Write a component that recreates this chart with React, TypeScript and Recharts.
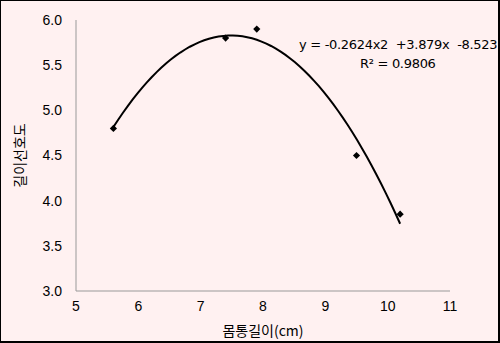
import { ComposedChart, Line, Scatter, XAxis, YAxis, Label } from "recharts";

const lengthCm = [5.6, 7.4, 7.9, 9.5, 10.2];
const preference = [4.8, 5.8, 5.9, 4.5, 3.85];
const xTicks = [5, 6, 7, 8, 9, 10, 11];
const yTicks = [3.0, 3.5, 4.0, 4.5, 5.0, 5.5, 6.0];
const equationText = "y = -0.2624x2  +3.879x  -8.523";
const r2Text = "R² = 0.9806";

const points = lengthCm.map((x, i) => ({ x, y: preference[i] }));

// quadratic least squares fit of the points (like the Excel trendline)
function fitQuadratic(xs: number[], ys: number[]) {
  const s = (p: number, q = 0) =>
    xs.reduce((acc, x, i) => acc + Math.pow(x, p) * Math.pow(ys[i], q), 0);
  const A = [
    [s(4), s(3), s(2), s(2, 1)],
    [s(3), s(2), s(1), s(1, 1)],
    [s(2), s(1), xs.length, s(0, 1)],
  ];
  for (let c = 0; c < 3; c++) {
    for (let r = c + 1; r < 3; r++) {
      const f = A[r][c] / A[c][c];
      for (let k = c; k < 4; k++) A[r][k] -= f * A[c][k];
    }
  }
  const res = [0, 0, 0];
  for (let r = 2; r >= 0; r--) {
    let v = A[r][3];
    for (let k = r + 1; k < 3; k++) v -= A[r][k] * res[k];
    res[r] = v / A[r][r];
  }
  return res;
}

const [qa, qb, qc] = fitQuadratic(lengthCm, preference);
const xMin = Math.min(...lengthCm);
const xMax = Math.max(...lengthCm);
const trend = Array.from({ length: 61 }, (_, i) => {
  const x = xMin + ((xMax - xMin) * i) / 60;
  return { x, y: qa * x * x + qb * x + qc };
});

const tickStyle = { fill: "#000", fontSize: 14, fontFamily: "Liberation Sans, Arial, sans-serif" };
const korean = "'Noto Sans CJK KR', sans-serif";

const DiamondDot = (props: any) => {
  const { cx, cy } = props;
  const r = 3.6;
  return (
    <path
      d={`M${cx},${cy - r}L${cx + r},${cy}L${cx},${cy + r}L${cx - r},${cy}Z`}
      fill="#000"
    />
  );
};

export default function App() {
  return (
    <div
      style={{
        position: "absolute",
        left: 0,
        top: 0,
        width: 500,
        height: 343,
        boxSizing: "border-box",
        background: "#fff1f1",
        borderStyle: "solid",
        borderColor: "#000",
        borderWidth: "1px 2px 2px 1px",
      }}
    >
      <div style={{ position: "absolute", left: -1, top: -1 }}>
        <ComposedChart width={500} height={343} margin={{ top: 20, right: 50, bottom: 0, left: 0 }}>
          <XAxis
            type="number"
            dataKey="x"
            domain={[5, 11]}
            ticks={xTicks}
            tickLine={false}
            tickMargin={4}
            stroke="#999"
            tick={tickStyle}
            height={52}
          >
            <Label
              value="몸통길이(cm)"
              position="insideBottom"
              offset={7}
              style={{ fill: "#000", fontSize: 14, fontFamily: korean }}
            />
          </XAxis>
          <YAxis
            type="number"
            dataKey="y"
            domain={[3, 6]}
            ticks={yTicks}
            tickFormatter={(v: number) => v.toFixed(1)}
            tickLine={false}
            tickMargin={8}
            stroke="#999"
            tick={tickStyle}
            width={76}
          >
            <Label
              value="길이선호도"
              angle={-90}
              position="insideLeft"
              offset={20}
              style={{ fill: "#000", fontSize: 14, fontFamily: korean, textAnchor: "middle" }}
            />
          </YAxis>
          <Line
            data={trend}
            dataKey="y"
            type="linear"
            stroke="#000"
            strokeWidth={2}
            dot={false}
            activeDot={false}
            isAnimationActive={false}
          />
          <Scatter data={points} dataKey="y" shape={DiamondDot} fill="#000" isAnimationActive={false} />
        </ComposedChart>
      </div>
      <div
        style={{
          position: "absolute",
          left: 298,
          top: 36,
          fontSize: 13,
          fontFamily: "'DejaVu Sans', sans-serif",
          color: "#000",
          whiteSpace: "pre",
          letterSpacing: -0.3,
        }}
      >
        {equationText}
      </div>
      <div
        style={{
          position: "absolute",
          left: 359,
          top: 55,
          fontSize: 13,
          fontFamily: "'DejaVu Sans', sans-serif",
          color: "#000",
          whiteSpace: "pre",
          letterSpacing: -0.3,
        }}
      >
        {r2Text}
      </div>
    </div>
  );
}
